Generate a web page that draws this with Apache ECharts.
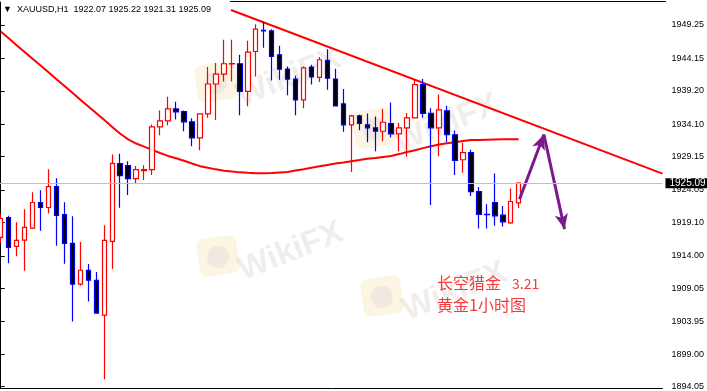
<!DOCTYPE html>
<html><head><meta charset="utf-8">
<script src="https://cdn.jsdelivr.net/npm/echarts@6/dist/echarts.min.js"></script>
<style>html,body{margin:0;padding:0;background:#fff}#c{width:707px;height:391px}</style>
</head><body><div id="c"></div>
<script>
// ---- data ----
const symbolName = 'XAUUSD,H1';
const headerOHLC = [1922.07, 1925.22, 1921.31, 1925.09];
const priceTicks = [1949.25, 1944.15, 1939.20, 1934.10, 1929.15, 1924.05, 1919.10, 1914.00, 1909.05, 1903.95, 1899.00, 1894.05];
const opens  = [1916.81,1919.85,1915.44,1916.40,1918.23,1922.14,1921.38,1924.57,1920.31,1915.90,1909.67,1911.80,1910.27,1904.95,1916.21,1928.07,1927.78,1925.79,1927.02,1927.15,1933.69,1934.61,1936.43,1936.02,1934.45,1932.02,1935.67,1940.23,1941.75,1943.30,1943.32,1939.11,1945.19,1948.42,1948.34,1944.69,1942.51,1940.99,1937.80,1942.82,1941.24,1943.85,1940.99,1937.19,1934.00,1935.37,1934.00,1933.55,1933.02,1934.20,1932.63,1933.54,1935.06,1940.13,1935.76,1933.54,1936.13,1932.48,1928.67,1929.74,1923.81,1920.33,1922.14,1920.20,1919.03,1922.07];
const closes = [1919.70,1915.29,1916.36,1918.33,1922.14,1921.38,1924.57,1920.16,1915.90,1909.67,1911.80,1910.27,1905.26,1916.36,1928.11,1926.24,1925.79,1927.15,1927.15,1933.69,1934.61,1936.43,1935.97,1934.45,1932.02,1935.67,1940.23,1941.75,1943.32,1943.35,1939.11,1945.10,1948.60,1948.35,1944.43,1942.48,1940.99,1937.80,1942.68,1941.30,1943.93,1941.11,1936.89,1934.00,1935.37,1934.20,1933.54,1933.02,1934.39,1932.63,1933.54,1935.06,1940.13,1935.76,1933.54,1936.28,1932.48,1928.57,1929.74,1923.81,1920.31,1920.28,1920.10,1919.19,1922.29,1925.09];
const lows   = [1915.95,1912.86,1913.92,1911.73,1918.08,1917.82,1920.46,1915.54,1912.80,1903.98,1909.45,1907.02,1905.20,1895.16,1911.99,1921.35,1923.29,1925.12,1925.57,1926.33,1932.42,1933.94,1934.80,1933.02,1930.74,1930.13,1935.06,1934.73,1940.63,1940.63,1935.46,1936.83,1941.39,1945.75,1940.78,1940.89,1938.50,1935.46,1936.52,1940.17,1940.54,1939.37,1936.80,1932.93,1926.79,1933.18,1931.35,1929.98,1931.50,1932.07,1929.98,1929.13,1935.00,1935.06,1921.77,1929.22,1931.35,1926.33,1926.70,1923.14,1918.18,1918.18,1918.58,1918.49,1918.88,1921.31];
const highs  = [1920.36,1920.10,1919.14,1921.12,1923.70,1924.01,1927.20,1925.83,1922.18,1920.05,1916.10,1912.75,1911.54,1918.68,1929.48,1929.59,1928.42,1927.70,1927.81,1934.04,1936.17,1938.30,1937.54,1936.17,1935.00,1935.72,1942.82,1943.43,1946.97,1946.97,1944.69,1946.82,1949.37,1949.75,1948.60,1946.06,1942.91,1941.49,1942.91,1943.17,1944.34,1945.55,1942.56,1939.47,1935.52,1935.52,1935.72,1935.26,1936.43,1937.39,1934.30,1935.82,1940.89,1940.99,1936.52,1938.61,1936.93,1933.13,1931.26,1930.20,1924.51,1921.88,1926.55,1921.62,1924.27,1925.22];
const maValues = [1948.25,1947.21,1946.16,1945.13,1944.08,1943.05,1942.01,1940.96,1939.93,1938.88,1937.84,1936.81,1935.76,1934.73,1933.68,1932.63,1931.78,1931.14,1930.67,1930.18,1929.69,1929.25,1928.89,1928.52,1928.10,1927.69,1927.43,1927.20,1927.00,1926.87,1926.74,1926.67,1926.62,1926.59,1926.65,1926.73,1926.80,1927.02,1927.23,1927.46,1927.66,1927.87,1928.08,1928.26,1928.45,1928.63,1928.83,1928.92,1929.09,1929.24,1929.53,1929.85,1930.13,1930.44,1930.74,1930.99,1931.17,1931.35,1931.53,1931.67,1931.70,1931.73,1931.76,1931.78,1931.79,1931.81];
// trend line endpoints [bar index, price]
const trendLine = [[28.9, 1951.53], [83.04, 1926.55]];
// hand-drawn arrows [bar index, price]
const arrowPath = [[65.1, 1922.64], [68.16, 1932.52], [70.75, 1918.08]];
const noteLine1 = '长空猎金';
const noteDate = '3.21';
const noteLine2 = '黄金1小时图';

// ---- chart ----
const chart = echarts.init(document.getElementById('c'), null, {renderer: 'canvas'});
const candleData = opens.map((o, i) => [i, o, closes[i], lows[i], highs[i]]);
const maData = maValues.map((v, i) => [i, v]);
const lastClose = headerOHLC[3];

function watermark(x, y) {
  return {
    type: 'group', x: x, y: y, z: -10, silent: true,
    children: [
      {type: 'rect', rotation: 0.15, shape: {x: -20, y: -19, width: 40, height: 38, r: 7},
       style: {fill: 'rgba(252,236,200,0.5)'}},
      {type: 'circle', shape: {cx: 0, cy: 1, r: 11},
       style: {fill: 'rgba(215,205,215,0.3)'}},
      {type: 'text', x: 22, y: 16, rotation: 0.38,
       style: {text: 'WikiFX', font: 'bold 33px "Liberation Sans"', fill: 'rgba(200,180,180,0.24)',
         align: 'left', verticalAlign: 'middle'}}
    ]
  };
}

const option = {
  animation: false,
  backgroundColor: '#ffffff',
  grid: {left: 0, right: 42, top: 2, bottom: 1, containLabel: false},
  xAxis: {
    type: 'value', min: -0.0875, max: 83.0375,
    axisLine: {show: true, onZero: false, lineStyle: {color: '#000', width: 1}},
    axisTick: {show: false}, axisLabel: {show: false}, splitLine: {show: false}
  },
  yAxis: {
    type: 'value', position: 'right', min: 1893.745, max: 1952.75, scale: true,
    axisLine: {show: true, lineStyle: {color: '#000', width: 1}},
    axisTick: {show: true, length: 4, customValues: priceTicks, lineStyle: {color: '#000'}},
    axisLabel: {show: true, customValues: priceTicks, formatter: v => v.toFixed(2),
      color: '#000', fontSize: 9, fontFamily: 'Liberation Sans', margin: 9},
    splitLine: {show: false}
  },
  graphic: [
    watermark(216, 82), watermark(374, 128), watermark(218, 256), watermark(382, 296),
    {type: 'line', shape: {x1: 230, y1: 1.5, x2: 666, y2: 1.5}, style: {stroke: '#000', lineWidth: 1}, z: 10, silent: true},
    {type: 'text', left: 3, top: 5, z: 10,
     style: {text: '\u25BC  ' + symbolName + '  ' + headerOHLC.map(v => v.toFixed(2)).join(' '),
       font: '9px "Liberation Sans", "DejaVu Sans"', fill: '#000'}},
    {type: 'text', left: 437, top: 275, z: 10,
     style: {text: noteLine1, font: '16px "Noto Sans CJK SC"', fill: '#f03c3c'}},
    {type: 'text', left: 512, top: 277, z: 10,
     style: {text: noteDate, font: '14px "Noto Sans CJK SC"', fill: '#f03c3c'}},
    {type: 'text', left: 437, top: 297, z: 10,
     style: {text: noteLine2, font: '16px "Noto Sans CJK SC"', fill: '#f03c3c'}}
  ],
  series: [
    {
      type: 'line', data: maData, symbol: 'none', smooth: false, z: 3,
      lineStyle: {color: '#ff0000', width: 2},
      markLine: {
        silent: true, symbol: ['none', 'arrow'], symbolSize: [10, 15],
        lineStyle: {color: '#7a1a8a', width: 3, type: 'solid'},
        label: {show: false},
        data: [
          [{coord: arrowPath[0]}, {coord: arrowPath[1]}],
          [{coord: arrowPath[1]}, {coord: arrowPath[2]}]
        ]
      }
    },
    {
      type: 'line', data: trendLine, symbol: 'none', z: 3,
      lineStyle: {color: '#ff0000', width: 2}
    },
    {
      type: 'candlestick', data: candleData, encode: {x: 0, y: [1, 2, 3, 4]},
      barWidth: 5, z: 4,
      itemStyle: {color: '#ffffff', color0: '#000000', borderColor: '#ff0000', borderColor0: '#0000ff', borderWidth: 1.2},
      markLine: {
        silent: true, symbol: 'none',
        lineStyle: {color: '#c0c0c0', width: 1, type: 'solid'},
        label: {show: true, position: 'end', distance: 3, formatter: lastClose.toFixed(2),
          color: '#fff', backgroundColor: '#000', fontSize: 10, fontFamily: 'Liberation Sans',
          padding: [0, 8, 0, 4], lineHeight: 10},
        data: [{yAxis: lastClose}]
      }
    }
  ]
};
chart.setOption(option);
</script></body></html>
